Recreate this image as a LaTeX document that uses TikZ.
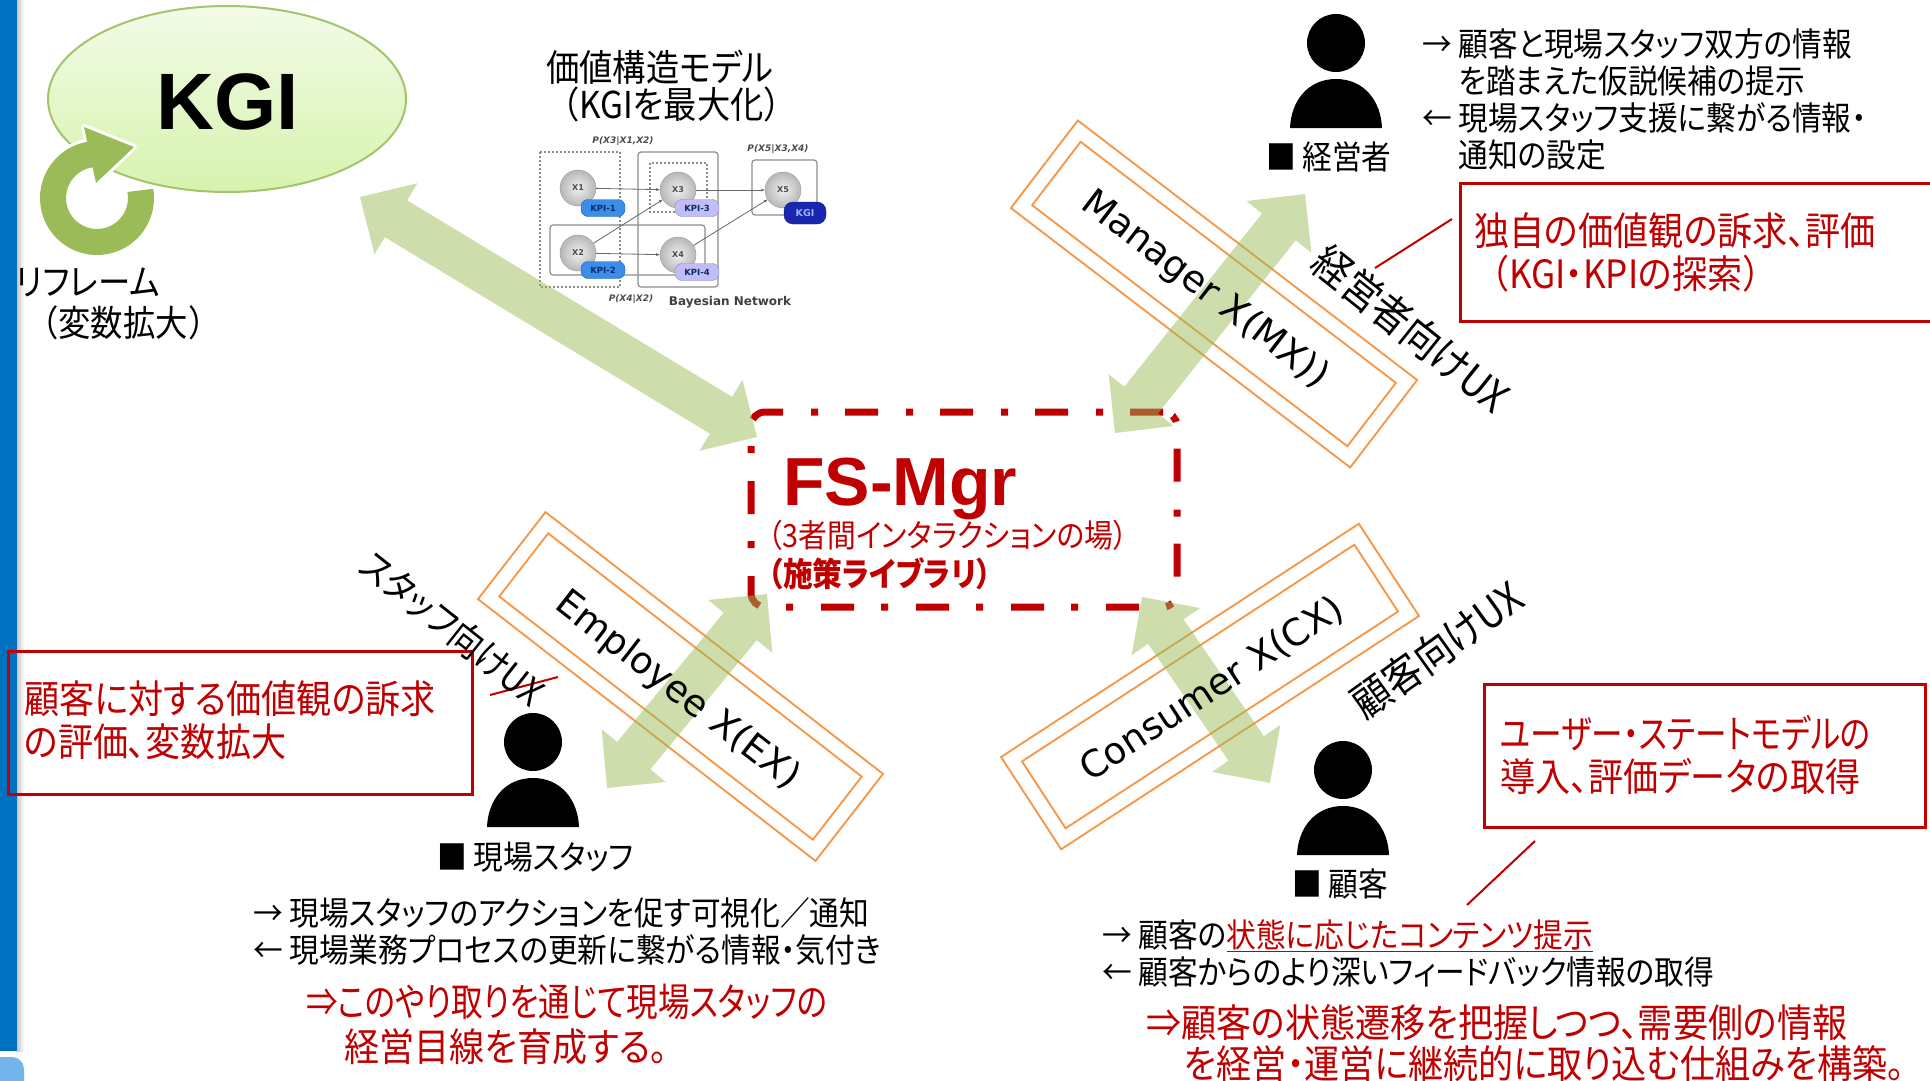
\documentclass[tikz,border=0pt]{standalone}
\usepackage{fontspec}
\setmainfont{Noto Sans CJK JP}[FakeStretch=0.9,RawFeature=+palt]
\newfontfamily\jpwide{Noto Sans CJK JP}[FakeStretch=0.9]
\newfontfamily\jpnarrow{Noto Sans CJK JP}[FakeStretch=0.81,RawFeature=+palt]
\newfontfamily\arialfont{Liberation Sans}
\newfontfamily\verdanafont{DejaVu Sans}
\usetikzlibrary{calc,shapes.geometric,arrows.meta}

\definecolor{barblue}{HTML}{0070C0}
\definecolor{blobblue}{HTML}{74B5EE}
\definecolor{kgitop}{HTML}{F2FBE8}
\definecolor{kgibottom}{HTML}{D7F3AE}
\definecolor{kgiline}{HTML}{A3C46B}
\definecolor{loopgreen}{HTML}{9BBB59}
\definecolor{arrowgreen}{HTML}{9BBB59}
\definecolor{uxorange}{HTML}{F79646}
\definecolor{fsred}{HTML}{C00000}
\definecolor{kpiblue}{HTML}{3A8EE8}
\definecolor{kpiblueline}{HTML}{1C5DB5}
\definecolor{kpililac}{HTML}{C3BDF5}
\definecolor{kpililacline}{HTML}{8A84D6}
\definecolor{kpitext}{HTML}{0B2A70}
\definecolor{kginavy}{HTML}{1826B0}
\definecolor{kgitext}{HTML}{9DB3FF}

\newcommand\setfs[2]{\fontsize{#1}{#2}\selectfont}
\newcommand\lpar{{\jpwide （}}
\newcommand\rpar{{\jpwide ）}}

\newcommand\twoway[2]{%
  \path let \p1=($(#2)-(#1)$) in
    \pgfextra{\pgfmathsetmacro\arrang{atan2(\y1,\x1)}%
      \pgfmathsetmacro\arrlen{veclen(\x1,\y1)}%
      \xdef\arrang{\arrang}\xdef\arrlen{\arrlen}};
  \fill[flowarrow, shift={(#1)}, rotate=\arrang]
    (0,0) -- (42,-41.5) -- (42,-21.5) -- (\arrlen-42,-21.5) -- (\arrlen-42,-41.5)
    -- (\arrlen,0) -- (\arrlen-42,41.5) -- (\arrlen-42,21.5) -- (42,21.5) -- (42,41.5) -- cycle;
}

\tikzset{
  flowarrow/.style={fill=arrowgreen, fill opacity=0.5},
  person/.pic={
    \fill (0,0) circle[radius=29];
    \fill (-46,85) .. controls (-45,58) and (-28,36) .. (0,36)
      .. controls (28,36) and (45,58) .. (46,85) -- cycle;
  }
}

\begin{document}
\begin{tikzpicture}[x=1pt, y=-1pt,
  info/.style={inner sep=0, anchor=north west, align=left, font=\setfs{33}{37}},
  note/.style={inner sep=0, anchor=north west, align=left, text=fsred, font=\setfs{39}{43}},
  notebox/.style={draw=fsred, line width=2.5, inner sep=0, anchor=north west},
  pin/.style={draw=fsred, line width=2},
  uxbox/.style={draw=uxorange, line width=2, double=white, double distance=13,
    minimum width=412, minimum height=95, inner sep=0},
  uxname/.style={inner sep=0, font=\verdanafont\setfs{37}{40}},
  uxtag/.style={inner sep=0, font=\setfs{42}{44}},
  who/.style={inner sep=0, anchor=west, font=\setfs{33}{37}},
  fsframe/.style={draw=fsred, line width=7, dash pattern=on 33 off 27 on 7 off 28,
    rounded corners=14, minimum width=426, minimum height=195, inner sep=0},
  bnframe/.style={draw=black!45, line width=1.2},
  bnvar/.style={circle, minimum size=36, inner sep=0, draw=black!40, inner color=black!6,
    outer color=black!28, text=black!70, font=\verdanafont\bfseries\setfs{8}{9}},
  bnedge/.style={draw=black!60, line width=0.8, -{Stealth[length=4,width=3]}},
  kpione/.style={rounded corners=7, minimum width=44, minimum height=17, inner sep=0,
    fill=kpiblue, draw=kpiblueline, text=kpitext, font=\verdanafont\bfseries\setfs{8.5}{9}},
  kpitwo/.style={kpione, fill=kpililac, draw=kpililacline},
  kgipill/.style={rounded corners=9, minimum width=42, minimum height=22, inner sep=0,
    fill=kginavy, draw=kginavy!70!black, text=kgitext, font=\verdanafont\bfseries\setfs{9.5}{10}},
  bnnote/.style={inner sep=0, text=black!70, font=\verdanafont\bfseries\itshape\setfs{9}{10}}]

\useasboundingbox (0,0) rectangle (1930,1081);

\fill[barblue] (0,0) rectangle (17,1051);
\shade[left color=black!22, right color=white] (17,0) rectangle (24,1051);
\begin{scope}
  \clip (0,0) rectangle (1930,1081);
  \fill[blobblue, rounded corners=12] (-30,1057) rectangle (24,1110);
\end{scope}

\node[ellipse, minimum width=358, minimum height=186, top color=kgitop, bottom color=kgibottom,
  draw=kgiline, line width=2] (kgi) at (227,99) {};
\node[inner sep=0, font=\arialfont\bfseries\setfs{80}{82}] (kgilabel) at (228,102) {KGI};

\coordinate (loop) at (97,198);
\coordinate (loopwing) at (84,127);
\coordinate (looptip) at (134,147);
\coordinate (loopfoot) at (96,183);
\draw[white, line width=32] ([shift={(-10:44)}]loop) arc[start angle=-10, end angle=262, radius=44];
\filldraw[white, line width=6, line join=round] (loopwing) -- (looptip) -- (loopfoot) -- cycle;
\draw[loopgreen, line width=26] ([shift={(-10:44)}]loop) arc[start angle=-10, end angle=262, radius=44];
\fill[loopgreen] (loopwing) -- (looptip) -- (loopfoot) -- cycle;
\node[inner sep=0, anchor=north west, align=left, font=\setfs{36}{41}] (reframe) at (16,268)
  {リフレーム\\\hspace{10pt}\lpar 変数拡大\rpar};

\node[inner sep=0, anchor=north west, align=left, font=\setfs{37}{37}] (model) at (546,50)
  {価値構造モデル\\\lpar KGIを最大化\rpar};

\draw[bnframe, dash pattern=on 2 off 2, line width=1.6] (540,152) rectangle (620,287);
\draw[bnframe, rounded corners=3] (638,152) rectangle (718,287);
\draw[bnframe, dash pattern=on 2 off 2, line width=1.6] (650,163) rectangle (707,212);
\draw[bnframe, rounded corners=3] (752,160) rectangle (817,215);
\draw[bnframe, rounded corners=3] (550,225) rectangle (705,275);
\node[bnvar] (x1) at (578,188) {X1};
\node[bnvar] (x3) at (678,190) {X3};
\node[bnvar] (x5) at (783,190) {X5};
\node[bnvar] (x2) at (578,253) {X2};
\node[bnvar] (x4) at (678,255) {X4};
\draw[bnedge] (x1) -- (x3);
\draw[bnedge] (x3) -- (x5);
\draw[bnedge] (x2) -- (x4);
\draw[bnedge] (x2) -- (x3);
\draw[bnedge] (x4) -- (x5);
\node[kpione] (kpi1) at (603,208) {KPI-1};
\node[kpione] (kpi2) at (603,270) {KPI-2};
\node[kpitwo] (kpi3) at (697,208) {KPI-3};
\node[kpitwo] (kpi4) at (697,272) {KPI-4};
\node[kgipill] (kgipill) at (805,213) {KGI};
\node[bnnote] (p312) at (623,141) {P(X3|X1,X2)};
\node[bnnote] (p534) at (778,149) {P(X5|X3,X4)};
\node[bnnote] (p42) at (631,299) {P(X4|X2)};
\node[inner sep=0, text=black!75, font=\verdanafont\bfseries\setfs{12}{13}] (bnname) at (730,302) {Bayesian Network};

\pic (bosspic) at (1336,43) {person};
\pic (staffpic) at (533,742) {person};
\pic (custpic) at (1343,770) {person};
\node[who] (boss) at (1266,157) {■ 経営者};
\node[who] (staff) at (437,857) {■ 現場スタッフ};
\node[who] (cust) at (1292,884) {■ 顧客};

\node[info] (bossinfo) at (1422,28)
  {→ 顧客と現場スタッフ双方の情報\\\phantom{→ }を踏まえた仮説候補の提示\\
   ← 現場スタッフ支援に繋がる情報・\\\phantom{← }通知の設定};
\node[info] (staffinfo) at (253,897)
  {→ 現場スタッフのアクションを促す可視化／通知\\← 現場業務プロセスの更新に繋がる情報・気付き};
\node[info] (custinfo) at (1102,919)
  {→ 顧客の\textcolor{fsred}{\underline{状態に応じたコンテンツ提示}}\\← 顧客からのより深いフィードバック情報の取得};

\node[notebox, minimum width=490, minimum height=138] (bossnote) at (1459,182) {};
\node[note] (bossnotetext) at (1474,212) {独自の価値観の訴求、評価\\\lpar KGI・KPIの探索\rpar};
\node[notebox, minimum width=464, minimum height=143] (staffnote) at (7,650) {};
\node[note] (staffnotetext) at (24,681) {顧客に対する価値観の訴求\\の評価、変数拡大};
\node[notebox, minimum width=441, minimum height=143] (custnote) at (1483,683) {};
\node[note] (custnotetext) at (1500,715) {{\jpnarrow ユーザー・ステートモデルの}\\導入、評価データの取得};

\coordinate (bosspinA) at (1375,268);
\coordinate (bosspinB) at (1452,219);
\coordinate (staffpinA) at (490,695);
\coordinate (staffpinB) at (558,677);
\coordinate (custpinA) at (1535,841);
\coordinate (custpinB) at (1467,905);
\draw[pin] (bosspinA) -- (bosspinB);
\draw[pin] (staffpinA) -- (staffpinB);
\draw[pin] (custpinA) -- (custpinB);

\node[note, font=\setfs{39}{45}] (staffgoal) at (306,984)
  {{\jpnarrow ⇒このやり取りを通じて現場スタッフの}\\\hspace{38pt}経営目線を育成する。};
\node[note, font=\setfs{39}{41}] (custgoal) at (1146,1004)
  {⇒顧客の状態遷移を把握しつつ、需要側の情報\\\hspace{38pt}を経営・運営に継続的に取り込む仕組みを構築。};

\node[uxbox, rotate=-37.4] (bossbox) at (1214,294) {};
\node[uxbox, rotate=-37.8] (staffbox) at (680.5,686.5) {};
\node[uxbox, rotate=33.1] (custbox) at (1210,686.5) {};

\node[fsframe] (fsmgr) at (964,509.5) {};
\node[inner sep=0, anchor=base west, text=fsred, font=\arialfont\bfseries\setfs{68}{70}] (fstitle) at (783,505) {FS-Mgr};
\node[inner sep=0, anchor=west, text=fsred, font=\setfs{32}{34}] (fsplace) at (768,535) {（3者間インタラクションの場）};
\node[inner sep=0, anchor=west, text=fsred, font=\bfseries\setfs{33}{34}] (fslib) at (768,574) {（施策ライブラリ）};

\coordinate (kgiend) at (360,197);
\coordinate (fskgi) at (757,437);
\coordinate (fsboss) at (1115,433);
\coordinate (bossend) at (1305,194);
\coordinate (fsstaff) at (767,594);
\coordinate (staffend) at (607,788);
\coordinate (fscust) at (1142,597);
\coordinate (custend) at (1270,783);
\twoway{kgiend}{fskgi}
\twoway{fsboss}{bossend}
\twoway{fsstaff}{staffend}
\twoway{fscust}{custend}

\node[uxname, rotate=-37.4] (bossux) at (1205,290) {Manager X(MX))};
\node[uxname, rotate=-37.8] (staffux) at (677,691) {Employee X(EX)};
\node[uxname, rotate=33.1] (custux) at (1212,689) {Consumer X(CX)};
\node[uxtag, rotate=-38.6] (bosstag) at (1411,329) {経営者向けUX};
\node[uxtag, rotate=-38.4, font=\setfs{37}{40}] (stafftag) at (452,628) {スタッフ向けUX};
\node[uxtag, rotate=35.7] (custtag) at (1437,650) {顧客向けUX};

\end{tikzpicture}
\end{document}
